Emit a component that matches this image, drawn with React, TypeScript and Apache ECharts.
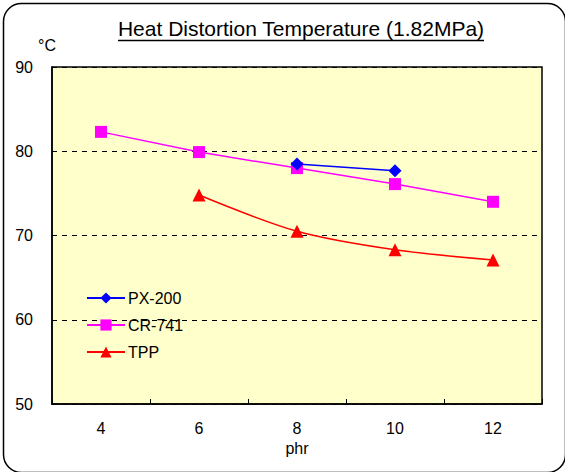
import React, { useEffect, useRef } from "react";
import * as echarts from "echarts";

const categories = ["4", "6", "8", "10", "12"];
const px200 = [null, null, 78.5, 77.7, null];
const cr741 = [82.3, 79.9, 78.0, 76.1, 74.0];
const tpp = [null, 74.8, 70.5, 68.3, 67.1];
const yTicks = [50, 60, 70, 80, 90];

export default function App() {
  const ref = useRef<HTMLDivElement>(null);
  useEffect(() => {
    const chart = echarts.init(ref.current!, null, { renderer: "svg" });
    const font = "Liberation Sans, Arial, sans-serif";
    chart.setOption({
      animation: false,
      backgroundColor: "#ffffff",
      textStyle: { fontFamily: font },
      title: {
        text: "Heat Distortion Temperature (1.82MPa)",
        left: 301,
        textAlign: "center",
        top: 18,
        padding: 0,
        textStyle: { fontSize: 21, fontWeight: "normal", color: "#000", fontFamily: font },
      },
      graphic: [
        {
          type: "rect",
          left: 1,
          top: 1,
          shape: { width: 562, height: 469, r: 18 },
          style: { fill: "none", stroke: "#000", lineWidth: 1.5 },
          z: 100,
        },
        {
          type: "line",
          shape: { x1: 118, y1: 40.5, x2: 484, y2: 40.5 },
          style: { stroke: "#000", lineWidth: 1.3 },
        },
        {
          type: "text",
          left: 38,
          top: 37,
          style: { text: "°C", font: `16px ${font}`, fill: "#000" },
        },
      ],
      legend: {
        orient: "vertical",
        left: 86,
        top: 290,
        padding: 0,
        itemWidth: 38,
        itemHeight: 14,
        itemGap: 11,
        textStyle: { fontSize: 16, color: "#000", fontFamily: font, padding: [0, 0, 0, -2] },
        data: ["PX-200", "CR-741", "TPP"],
      },
      grid: {
        left: 52,
        right: 23,
        top: 67,
        bottom: 68,
        show: true,
        backgroundColor: "#ffffcc",
        borderColor: "#000",
        borderWidth: 1.5,
      },
      xAxis: {
        type: "category",
        data: categories,
        boundaryGap: true,
        name: "phr",
        nameLocation: "middle",
        nameGap: 29,
        nameTextStyle: { fontSize: 16, color: "#000", fontFamily: font },
        axisLine: { show: true, lineStyle: { color: "#000", width: 1.5 } },
        axisTick: { show: true, inside: true, length: 5, lineStyle: { color: "#000" } },
        axisLabel: { fontSize: 16, color: "#000", margin: 16, fontFamily: font },
        splitLine: { show: false },
      },
      yAxis: {
        type: "value",
        min: yTicks[0],
        max: yTicks[yTicks.length - 1],
        interval: 10,
        axisLine: { show: true, lineStyle: { color: "#000", width: 1.5 } },
        axisTick: { show: false },
        axisLabel: { fontSize: 16, color: "#000", margin: 19, fontFamily: font },
        splitLine: { show: true, lineStyle: { color: "#000", type: [5, 5], width: 1 } },
      },
      series: [
        {
          name: "CR-741",
          type: "line",
          data: cr741,
          symbol: "rect",
          symbolSize: 12,
          color: "#ff00ff",
          lineStyle: { width: 1.5, color: "#ff00ff" },
          itemStyle: { color: "#ff00ff" },
        },
        {
          name: "PX-200",
          type: "line",
          data: px200,
          symbol: "diamond",
          symbolSize: 13,
          color: "#0000ff",
          lineStyle: { width: 1.5, color: "#0000ff" },
          itemStyle: { color: "#0000ff" },
        },
        {
          name: "TPP",
          type: "line",
          data: tpp,
          symbol: "triangle",
          symbolSize: 13,
          smooth: 0.3,
          color: "#ff0000",
          lineStyle: { width: 1.5, color: "#ff0000" },
          itemStyle: { color: "#ff0000" },
        },
      ],
    });
    return () => chart.dispose();
  }, []);
  return <div ref={ref} style={{ width: 565, height: 472, position: "absolute", left: 0, top: 0 }} />;
}
